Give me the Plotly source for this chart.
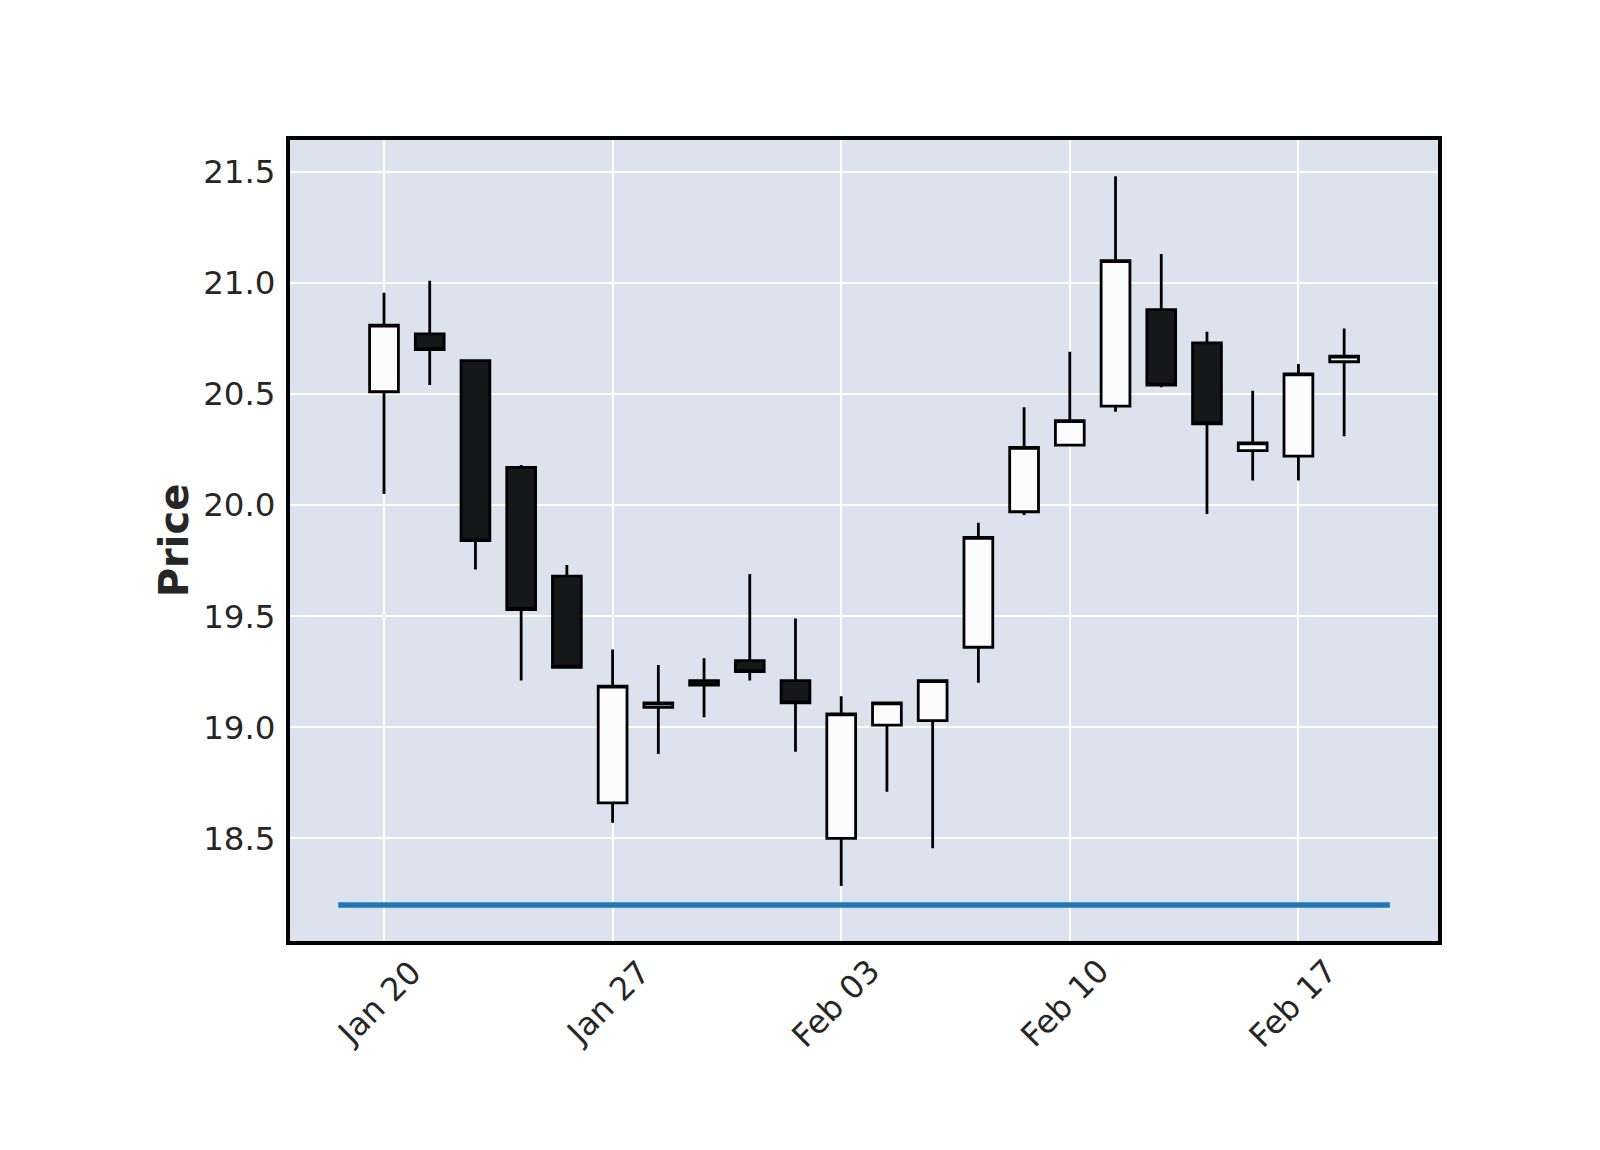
import plotly.graph_objects as go

# ---- data ----
dates = ["Jan 20", "Jan 21", "Jan 22", "Jan 23", "Jan 24",
         "Jan 27", "Jan 28", "Jan 29", "Jan 30", "Jan 31",
         "Feb 03", "Feb 04", "Feb 05", "Feb 06", "Feb 07",
         "Feb 10", "Feb 11", "Feb 12", "Feb 13", "Feb 14",
         "Feb 17", "Feb 18"]
opens = [20.51, 20.77, 20.65, 20.17, 19.68,
         18.66, 19.09, 19.21, 19.30, 19.21,
         18.50, 19.01, 19.03, 19.36, 19.97,
         20.27, 20.445, 20.88, 20.73, 20.245,
         20.22, 20.645]
highs = [20.955, 21.01, 20.65, 20.18, 19.73,
         19.35, 19.28, 19.31, 19.69, 19.49,
         19.14, 19.11, 19.21, 19.92, 20.44,
         20.69, 21.48, 21.13, 20.78, 20.515,
         20.635, 20.795]
lows = [20.05, 20.54, 19.71, 19.21, 19.27,
        18.57, 18.88, 19.045, 19.21, 18.89,
        18.285, 18.71, 18.455, 19.20, 19.955,
        20.27, 20.42, 20.53, 19.96, 20.11,
        20.11, 20.31]
closes = [20.81, 20.70, 19.84, 19.53, 19.27,
          19.185, 19.11, 19.19, 19.25, 19.11,
          19.06, 19.11, 19.21, 19.855, 20.26,
          20.38, 21.10, 20.54, 20.365, 20.28,
          20.59, 20.67]
hline_level = 18.2
tick_labels = ["Jan 20", "Jan 27", "Feb 03", "Feb 10", "Feb 17"]
y_ticks = [18.5, 19.0, 19.5, 20.0, 20.5, 21.0, 21.5]

idx = list(range(len(dates)))
tick_pos = [dates.index(t) for t in tick_labels]

FONT = "DejaVu Sans"
TXT = "#262626"

fig = go.Figure()

fig.add_trace(go.Scatter(
    x=[idx[0] - 1, idx[-1] + 1], y=[hline_level, hline_level],
    mode="lines", line=dict(color="#1f77b4", width=5.5),
    showlegend=False, hoverinfo="skip"))

fig.add_trace(go.Candlestick(
    x=idx, open=opens, high=highs, low=lows, close=closes,
    increasing=dict(line=dict(color="black", width=2.8), fillcolor="#fcfcfd"),
    decreasing=dict(line=dict(color="black", width=2.8), fillcolor="#161718"),
    whiskerwidth=0, showlegend=False))

for p, t in zip(tick_pos, tick_labels):
    fig.add_annotation(x=p, y=-0.0775, xref="x", yref="paper", text=t,
                       textangle=-45, showarrow=False, xshift=-5,
                       xanchor="center", yanchor="middle",
                       font=dict(family=FONT, size=32, color=TXT))

fig.update_layout(
    width=1600, height=1150,
    margin=dict(l=290, r=162, t=140, b=209),
    paper_bgcolor="white", plot_bgcolor="#dce3ef",
    boxgap=0.37, boxgroupgap=0,
    font=dict(family=FONT, size=32, color=TXT),
    showlegend=False,
)
fig.update_xaxes(
    range=[-2.056, 23.053], tickvals=tick_pos, showticklabels=False,
    showgrid=True, gridcolor="white", gridwidth=2, zeroline=False,
    showline=True, mirror=True, linecolor="black", linewidth=4,
    ticks="", rangeslider=dict(visible=False))
fig.update_yaxes(
    range=[18.038, 21.643], tickvals=y_ticks, ticktext=[f"{v:.1f}" for v in y_ticks],
    showgrid=True, gridcolor="white", gridwidth=2, zeroline=False,
    showline=True, mirror=True, linecolor="black", linewidth=4,
    ticks="", ticklabelstandoff=4,
    tickfont=dict(family=FONT, size=32.5, color=TXT),
    title=dict(text="<b>Price</b>", font=dict(family=FONT, size=40, color=TXT), standoff=3))

fig.write_html("out.html")
